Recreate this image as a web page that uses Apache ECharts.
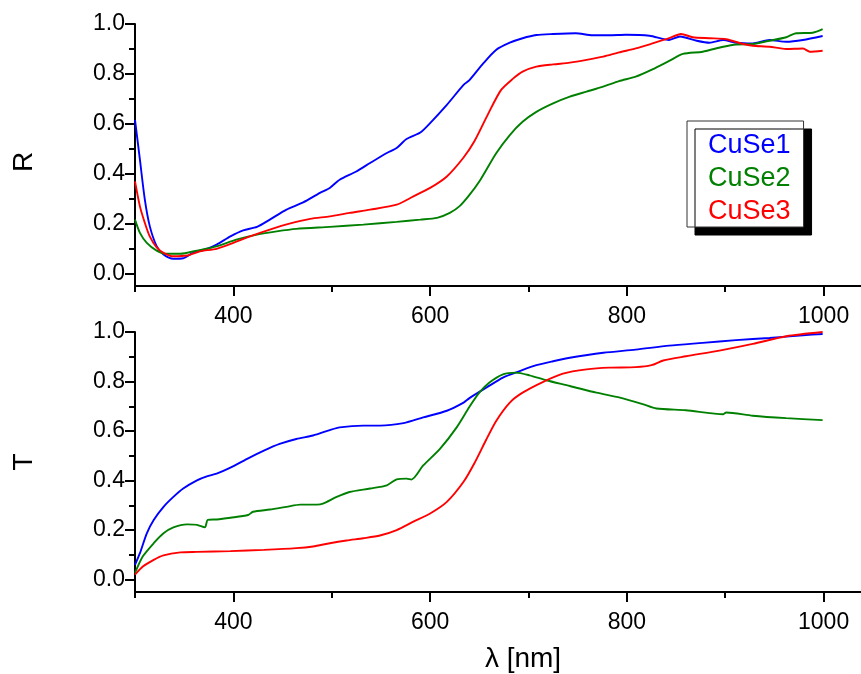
<!DOCTYPE html>
<html><head><meta charset="utf-8">
<script src="https://cdn.jsdelivr.net/npm/echarts@6/dist/echarts.min.js"></script>
<style>html,body{margin:0;padding:0;background:#fff}#c{width:861px;height:674px}</style>
</head><body><div id="c"></div>
<script>
// ---- Data ----
const seriesNames = ['CuSe1', 'CuSe2', 'CuSe3'];
const seriesColors = ['#0000ff', '#008000', '#ff0000'];

const xMajorTicks = [400, 600, 800, 1000];
const xMinorTicks = [300, 500, 700, 900];
const yMajorTicks = [0, 0.2, 0.4, 0.6, 0.8, 1.0];
const yMinorTicks = [0.1, 0.3, 0.5, 0.7, 0.9];

// Reflectance R
const R_CuSe1_wl = [300,305,310,315,322,329,339,349,359,373,383,397,410,424,437,454,471,488,498,508,525,539,556,566,576,590,600,617,634,640,654,667,681,694,708,725,748,765,782,799,823,843,854,871,884,898,911,928,945,962,979,999];
const R_CuSe1 = [0.616,0.456,0.296,0.19,0.11,0.076,0.059,0.061,0.083,0.099,0.116,0.149,0.173,0.187,0.216,0.256,0.285,0.323,0.343,0.376,0.409,0.443,0.483,0.503,0.539,0.565,0.603,0.676,0.756,0.775,0.842,0.896,0.925,0.943,0.956,0.96,0.963,0.955,0.955,0.957,0.953,0.936,0.95,0.933,0.925,0.936,0.925,0.922,0.936,0.929,0.936,0.952];

const R_CuSe2_wl = [300,305,312,322,332,346,363,383,403,424,444,464,498,532,566,590,607,620,630,640,651,667,681,694,708,725,742,759,776,792,809,826,843,857,877,898,911,928,945,962,972,989,999];
const R_CuSe2 = [0.216,0.163,0.123,0.092,0.079,0.079,0.092,0.109,0.136,0.156,0.169,0.179,0.187,0.196,0.207,0.216,0.223,0.243,0.27,0.315,0.375,0.481,0.555,0.608,0.648,0.682,0.709,0.729,0.749,0.771,0.789,0.818,0.852,0.88,0.889,0.909,0.918,0.92,0.933,0.947,0.963,0.965,0.979];

const R_CuSe3_wl = [300,305,310,315,322,329,339,353,366,383,400,417,437,457,478,498,518,539,566,583,600,617,634,645,659,672,684,694,708,725,742,759,776,792,809,826,843,855,867,884,901,918,928,945,962,979,986,999];
const R_CuSe3 = [0.369,0.269,0.203,0.149,0.105,0.083,0.069,0.072,0.089,0.099,0.123,0.149,0.176,0.2,0.219,0.229,0.243,0.256,0.276,0.309,0.343,0.389,0.465,0.53,0.64,0.735,0.78,0.809,0.829,0.838,0.845,0.856,0.869,0.886,0.902,0.922,0.943,0.96,0.947,0.943,0.939,0.92,0.913,0.909,0.9,0.902,0.889,0.893];

// Transmittance T
const T_CuSe1_wl = [300,305,312,319,329,339,349,363,373,383,397,414,431,447,464,481,498,508,532,549,573,593,617,634,640,657,674,691,708,725,742,776,809,843,877,911,945,979,999];
const T_CuSe1 = [0.06,0.107,0.187,0.241,0.294,0.334,0.368,0.401,0.417,0.428,0.452,0.488,0.521,0.548,0.568,0.582,0.604,0.615,0.622,0.622,0.632,0.655,0.682,0.715,0.733,0.775,0.816,0.842,0.866,0.882,0.896,0.916,0.929,0.945,0.956,0.967,0.976,0.987,0.992];

const T_CuSe2_wl = [300,308,319,329,339,353,363,371,374,383,397,415,420,437,454,468,485,491,505,518,539,556,566,576,581,593,610,627,640,650,660,674,687,701,718,742,769,793,816,830,860,898,901,928,962,999];
const T_CuSe2 = [0.027,0.094,0.147,0.187,0.211,0.223,0.221,0.211,0.241,0.243,0.25,0.261,0.274,0.283,0.294,0.303,0.303,0.307,0.334,0.354,0.368,0.381,0.405,0.408,0.404,0.461,0.528,0.615,0.698,0.755,0.795,0.829,0.836,0.825,0.805,0.782,0.755,0.735,0.709,0.691,0.684,0.668,0.675,0.662,0.652,0.644];

const T_CuSe3_wl = [300,308,319,329,346,363,397,431,464,481,498,515,532,549,566,583,600,617,634,645,657,667,681,694,715,735,759,782,809,825,837,860,894,928,962,999];
const T_CuSe3 = [0.02,0.053,0.08,0.098,0.11,0.112,0.115,0.12,0.127,0.134,0.147,0.158,0.167,0.178,0.2,0.234,0.267,0.314,0.395,0.47,0.565,0.64,0.715,0.755,0.799,0.832,0.849,0.856,0.858,0.866,0.885,0.902,0.925,0.952,0.983,1.0];

// ---- Chart ----
const FONT = '"Liberation Sans", Arial, sans-serif';
const zip = (a, b) => a.map((v, i) => [v, b[i]]);

function xAxes(g, withName) {
  const main = {
    type: 'value', gridIndex: g, min: 300, max: 1038, position: 'bottom',
    axisLine: { show: true, onZero: false, lineStyle: { color: '#000', width: 2 } },
    axisTick: { show: true, customValues: xMajorTicks, length: 10, lineStyle: { color: '#000', width: 2 } },
    axisLabel: { show: true, customValues: xMajorTicks, margin: 19, fontSize: 23, color: '#000', fontFamily: FONT,
      formatter: v => String(Math.round(v)) },
    splitLine: { show: false }
  };
  if (withName) {
    main.name = 'λ [nm]';
    main.nameLocation = 'middle';
    main.nameGap = 53;
    main.nameTextStyle = { fontSize: 28, color: '#000', fontFamily: FONT, padding: [0, 0, 0, 50] };
  }
  const minor = {
    type: 'value', gridIndex: g, min: 300, max: 1038, position: 'bottom',
    axisLine: { show: false, onZero: false },
    axisTick: { show: true, customValues: xMinorTicks, length: 6, lineStyle: { color: '#000', width: 2 } },
    axisLabel: { show: false }, splitLine: { show: false }
  };
  return [main, minor];
}
function yAxes(g, name, pad) {
  const main = {
    type: 'value', gridIndex: g, min: -0.05, max: 1.0, position: 'left',
    name: name, nameLocation: 'middle', nameGap: 97,
    nameTextStyle: { fontSize: 28, color: '#000', fontFamily: FONT, padding: pad },
    axisLine: { show: true, onZero: false, lineStyle: { color: '#000', width: 2 } },
    axisTick: { show: true, customValues: yMajorTicks, length: 10, lineStyle: { color: '#000', width: 2 } },
    axisLabel: { show: true, customValues: yMajorTicks, margin: 10, fontSize: 23, color: '#000', fontFamily: FONT,
      formatter: v => Number(v).toFixed(1) },
    splitLine: { show: false }
  };
  const minor = {
    type: 'value', gridIndex: g, min: -0.05, max: 1.0, position: 'left',
    axisLine: { show: false, onZero: false },
    axisTick: { show: true, customValues: yMinorTicks, length: 6, lineStyle: { color: '#000', width: 2 } },
    axisLabel: { show: false }, splitLine: { show: false }
  };
  return [main, minor];
}

const topData = [zip(R_CuSe1_wl, R_CuSe1), zip(R_CuSe2_wl, R_CuSe2), zip(R_CuSe3_wl, R_CuSe3)];
const botData = [zip(T_CuSe1_wl, T_CuSe1), zip(T_CuSe2_wl, T_CuSe2), zip(T_CuSe3_wl, T_CuSe3)];

const series = [];
topData.forEach((d, i) => series.push({
  name: seriesNames[i], type: 'line', xAxisIndex: 0, yAxisIndex: 0, data: d,
  showSymbol: false, smooth: 0.25,
  lineStyle: { color: seriesColors[i], width: 1.9 }, itemStyle: { color: seriesColors[i] }
}));
botData.forEach((d, i) => series.push({
  name: seriesNames[i], type: 'line', xAxisIndex: 2, yAxisIndex: 2, data: d,
  showSymbol: false, smooth: 0.25,
  lineStyle: { color: seriesColors[i], width: 1.9 }, itemStyle: { color: seriesColors[i] }
}));

const chart = echarts.init(document.getElementById('c'), null, { renderer: 'canvas' });
chart.setOption({
  animation: false,
  backgroundColor: '#fff',
  grid: [
    { left: 135, top: 24, width: 726, height: 262 },
    { left: 135, top: 332, width: 726, height: 262 }
  ],
  xAxis: [...xAxes(0, false), ...xAxes(1, true)],
  yAxis: [...yAxes(0, 'R', [0, 14, 0, 0]), ...yAxes(1, 'T', [0, 0, 0, 0])],
  legend: {
    orient: 'vertical', left: 687, top: 121,
    backgroundColor: '#fff', borderColor: '#333', borderWidth: 1,
    padding: [11, 13, 2, 16],
    shadowColor: '#000', shadowBlur: 0, shadowOffsetX: 8, shadowOffsetY: 8,
    itemWidth: 0, itemHeight: 0, itemGap: 6,
    selectedMode: false,
    textStyle: { fontSize: 27, fontFamily: FONT },
    data: seriesNames.map((n, i) => ({ name: n, icon: 'rect', itemStyle: { opacity: 0 }, textStyle: { color: seriesColors[i] } }))
  },
  series: series
});
</script></body></html>
